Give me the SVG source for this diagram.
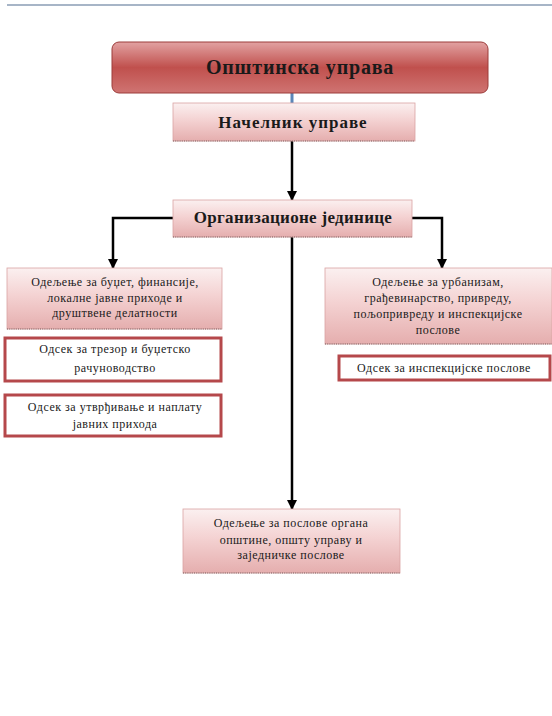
<svg xmlns="http://www.w3.org/2000/svg" width="552" height="716" viewBox="0 0 552 716">
<defs>
<style>
.t{font-family:"Liberation Serif","Times New Roman",serif;fill:#1a1a1a;text-anchor:middle}
.b{font-weight:bold}
.s{font-size:12px;letter-spacing:0.5px}
.light{fill:url(#gl);stroke:#d9a3a3;stroke-width:0.8}
.dot{stroke:#7a6060;stroke-width:1.2;stroke-dasharray:1 1.2;fill:none}
.red{fill:#fff;stroke:#b5484b;stroke-width:3}
.c{fill:none;stroke:#000;stroke-width:2.5}
</style>
<linearGradient id="gt" x1="0" y1="0" x2="0" y2="1">
<stop offset="0" stop-color="#e2a2a2"/>
<stop offset="0.5" stop-color="#c0504d"/>
<stop offset="1" stop-color="#cf7472"/>
</linearGradient>
<linearGradient id="gl" x1="0" y1="0" x2="0" y2="1">
<stop offset="0" stop-color="#fbf0f0"/>
<stop offset="0.45" stop-color="#f4d2d2"/>
<stop offset="1" stop-color="#e5aeae"/>
</linearGradient>
<marker id="ah" viewBox="0 0 10 10" refX="9" refY="5" markerWidth="4" markerHeight="4" orient="auto" markerUnits="strokeWidth">
<path d="M0,0 L10,5 L0,10 z" fill="#000"/>
</marker>
</defs>
<rect width="552" height="716" fill="#fff"/>
<line x1="7" y1="5" x2="552" y2="5" stroke="#8a9db5" stroke-width="1.5"/>

<g id="connectors">
<line x1="292" y1="93" x2="292" y2="103" stroke="#5b86b8" stroke-width="3"/>
<line class="c" x1="292" y1="141" x2="292" y2="200" marker-end="url(#ah)"/>
<polyline class="c" points="173,218 113,218 113,268" marker-end="url(#ah)"/>
<polyline class="c" points="412,218 442,218 442,268" marker-end="url(#ah)"/>
<line class="c" x1="292" y1="237" x2="292" y2="509" marker-end="url(#ah)"/>
</g>

<g id="n-opstinska">
<rect x="112" y="42" width="376" height="51" rx="7" fill="url(#gt)" stroke="#9c3c3a" stroke-width="1"/>
<text class="t b" x="300" y="74" font-size="20" letter-spacing="0.8">Општинска управа</text>
</g>

<g id="n-nacelnik">
<rect class="light" x="173" y="103" width="242" height="38"/>
<line class="dot" x1="173" y1="141" x2="415" y2="141"/>
<text class="t b" x="293" y="128" font-size="17" letter-spacing="1">Начелник управе</text>
</g>

<g id="n-org">
<rect class="light" x="173" y="200" width="239" height="37"/>
<line class="dot" x1="173" y1="237" x2="412" y2="237"/>
<text class="t b" x="293" y="223" font-size="17" letter-spacing="0.3">Организационе јединице</text>
</g>

<g id="n-budzet">
<rect class="light" x="7" y="268" width="215" height="61"/>
<line class="dot" x1="7" y1="329" x2="222" y2="329"/>
<text class="t s" x="115" y="286">Одељење за буџет, финансије,</text>
<text class="t s" x="115" y="302">локалне јавне приходе и</text>
<text class="t s" x="115" y="317">друштвене делатности</text>
</g>

<g id="n-trezor">
<rect class="red" x="5" y="338" width="216" height="43"/>
<text class="t s" x="115" y="353">Одсек за трезор и буџетско</text>
<text class="t s" x="115" y="372">рачуноводство</text>
</g>

<g id="n-utvrdjivanje">
<rect class="red" x="5" y="395" width="216" height="41"/>
<text class="t s" x="115" y="411">Одсек за утврђивање и наплату</text>
<text class="t s" x="115" y="428">јавних прихода</text>
</g>

<g id="n-urbanizam">
<rect class="light" x="325" y="268" width="227" height="76"/>
<line class="dot" x1="325" y1="344" x2="552" y2="344"/>
<text class="t s" x="438" y="286">Одељење за урбанизам,</text>
<text class="t s" x="438" y="302">грађевинарство, привреду,</text>
<text class="t s" x="438" y="318">пољопривреду и инспекцијске</text>
<text class="t s" x="438" y="334">послове</text>
</g>

<g id="n-inspekcija">
<rect class="red" x="339" y="356" width="211" height="24"/>
<text class="t s" x="444" y="372">Одсек за инспекцијске послове</text>
</g>

<g id="n-organi">
<rect class="light" x="183" y="509" width="217" height="64"/>
<line class="dot" x1="183" y1="573" x2="400" y2="573"/>
<text class="t s" x="291" y="527">Одељење за послове органа</text>
<text class="t s" x="291" y="544">општине, општу управу и</text>
<text class="t s" x="291" y="559">заједничке послове</text>
</g>
</svg>
